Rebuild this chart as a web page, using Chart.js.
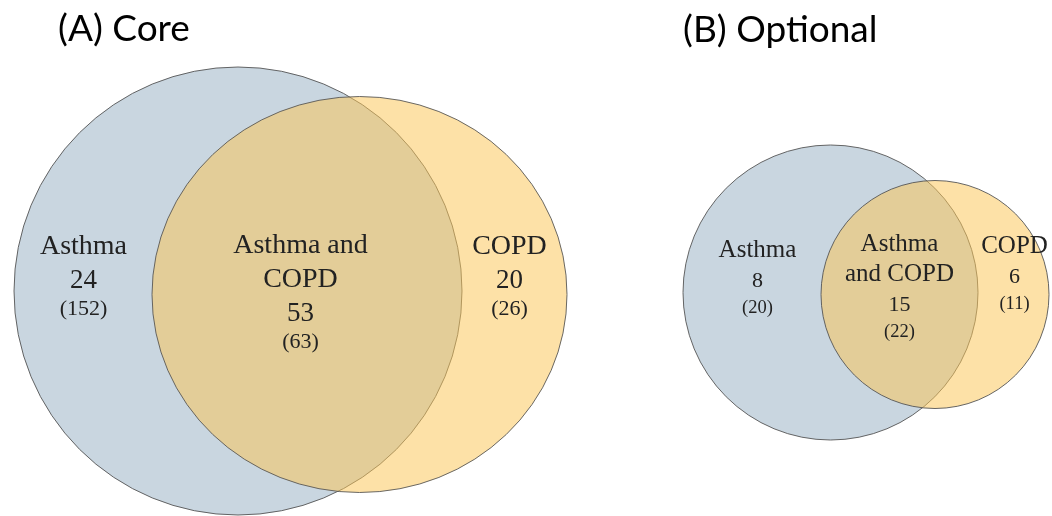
<!DOCTYPE html>
<html>
<head>
<meta charset="utf-8">
<script src="https://cdn.jsdelivr.net/npm/chart.js@4/dist/chart.umd.min.js"></script>
<style>
  html, body { margin: 0; padding: 0; background: #fff; }
</style>
</head>
<body>
<canvas id="venn" width="1052" height="516"></canvas>
<script>
// panels and regions
const panelTitles = ["(A) Core", "(B) Optional"];
const regionLines = [
  [["Asthma"], ["Asthma and", "COPD"], ["COPD"]],
  [["Asthma"], ["Asthma", "and COPD"], ["COPD"]]
];
const regionCounts = [[24, 53, 20], [8, 15, 6]];
const bracketCounts = [[152, 63, 26], [20, 22, 11]];

// circles, in plot units (x 0..105.2, y -25.8..25.8), one entry per panel
const asthmaX = [23.8, 83.05];
const asthmaY = [-3.3, -3.45];
const asthmaR = [22.4, 14.75];
const copdX = [35.95, 93.5];
const copdY = [-3.65, -3.65];
const copdR = [20.75, 11.4];

// where the text sits, plot units (first baseline of each block)
const titleX = [5.8, 68.3];
const titleY = [21.7, 21.6];
const labelX = [[8.35, 30.05, 50.95], [75.75, 89.95, 101.45]];
const labelY = [[0.4, 0.5, 0.4], [0.1, 0.7, 0.5]];

const nameFont = ["28px 'Liberation Serif'", "25px 'Liberation Serif'"];
const countFont = ["27px 'Liberation Serif'", "22px 'Liberation Serif'"];
const bracketFont = ["22px 'Liberation Serif'", "18.5px 'Liberation Serif'"];
const lineGap = [34, 30];
const bracketGap = [27, 26];

const blueFill = "rgb(201,214,224)";
const orangeFill = "rgba(251,197,86,0.52)";
const edge = "rgba(85,85,85,0.9)";

// radius given in plot units, turned into pixels by the x scale
const makeSet = (label, xs, ys, rs, fill, order, p, squashY) => ({
  label: label,
  data: [{ x: xs[p], y: ys[p] }],
  pointRadius: (ctx) => {
    const s = ctx.chart.scales.x;
    return s.getPixelForValue(rs[p]) - s.getPixelForValue(0);
  },
  pointBackgroundColor: fill,
  pointBorderColor: edge,
  pointBorderWidth: 1,
  showLine: false,
  order: order,
  clip: false,
  squashY: squashY
});

// squeeze a dataset vertically about its point (the core COPD set is a flat ellipse)
const squash = {
  id: "squash",
  beforeDatasetDraw(chart, args) {
    const f = chart.data.datasets[args.index].squashY;
    if (!f) return;
    const pt = args.meta.data[0];
    const ctx = chart.ctx;
    ctx.save();
    ctx.translate(pt.x, pt.y);
    ctx.scale(1, f);
    ctx.translate(-pt.x, -pt.y);
  },
  afterDatasetDraw(chart, args) {
    if (chart.data.datasets[args.index].squashY) chart.ctx.restore();
  }
};

const vennLabels = {
  id: "vennLabels",
  afterDatasetsDraw(chart) {
    const { ctx, scales: { x, y } } = chart;
    ctx.save();
    ctx.textBaseline = "alphabetic";
    ctx.textAlign = "left";
    ctx.fillStyle = "#000";
    ctx.font = "37px Lato";
    panelTitles.forEach((t, p) => {
      ctx.fillText(t, x.getPixelForValue(titleX[p]), y.getPixelForValue(titleY[p]));
    });
    ctx.textAlign = "center";
    ctx.fillStyle = "#222";
    regionLines.forEach((panel, p) => {
      panel.forEach((lines, k) => {
        const cx = x.getPixelForValue(labelX[p][k]);
        let by = y.getPixelForValue(labelY[p][k]);
        ctx.font = nameFont[p];
        lines.forEach((l) => {
          ctx.fillText(l, cx, by);
          by += lineGap[p];
        });
        ctx.font = countFont[p];
        ctx.fillText(String(regionCounts[p][k]), cx, by);
        by += bracketGap[p];
        ctx.font = bracketFont[p];
        ctx.fillText("(" + bracketCounts[p][k] + ")", cx, by);
      });
    });
    ctx.restore();
  }
};

new Chart(document.getElementById("venn"), {
  type: "scatter",
  data: {
    datasets: [
      makeSet("Asthma", asthmaX, asthmaY, asthmaR, blueFill, 2, 0),
      makeSet("COPD", copdX, copdY, copdR, orangeFill, 1, 0, 198 / 207.5),
      makeSet("Asthma", asthmaX, asthmaY, asthmaR, blueFill, 2, 1),
      makeSet("COPD", copdX, copdY, copdR, orangeFill, 1, 1)
    ]
  },
  options: {
    responsive: false,
    animation: false,
    events: [],
    layout: { padding: 0 },
    scales: {
      x: { type: "linear", min: 0, max: 105.2, display: false },
      y: { type: "linear", min: -25.8, max: 25.8, display: false }
    },
    plugins: {
      legend: { display: false },
      tooltip: { enabled: false }
    }
  },
  plugins: [squash, vennLabels]
});
</script>
</body>
</html>
